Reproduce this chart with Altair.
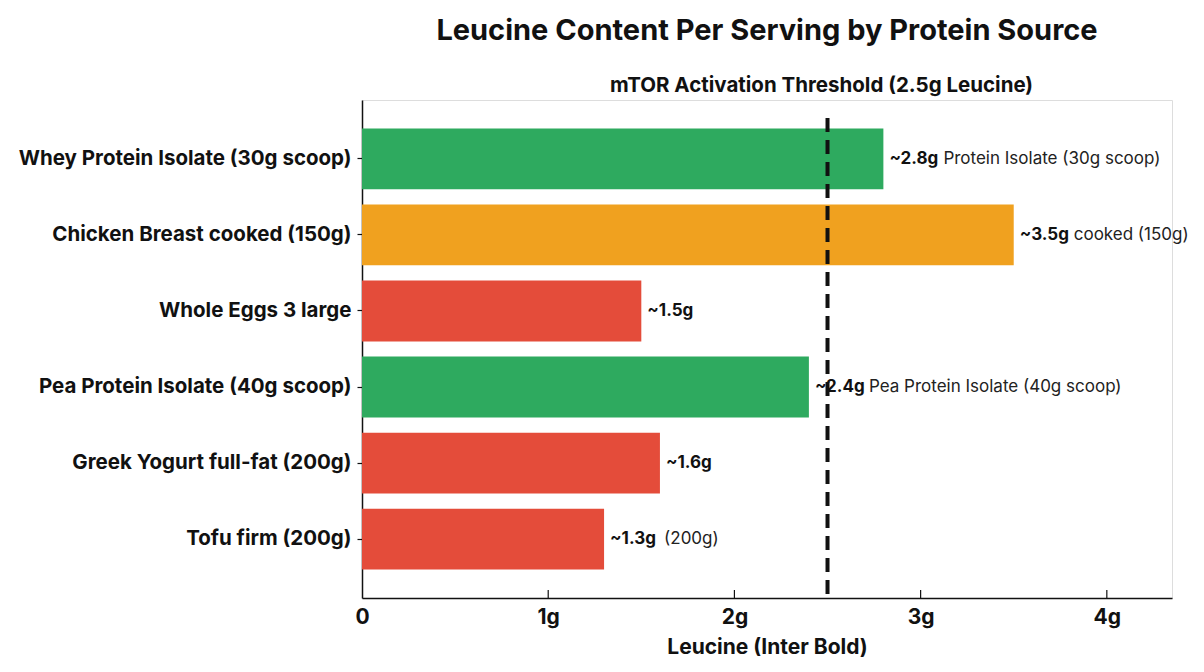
import altair as alt
import pandas as pd

# Leucine per serving, grams
sources = [
    "Whey Protein Isolate (30g scoop)",
    "Chicken Breast cooked (150g)",
    "Whole Eggs 3 large",
    "Pea Protein Isolate (40g scoop)",
    "Greek Yogurt full-fat (200g)",
    "Tofu firm (200g)",
]
leucine = [2.8, 3.5, 1.5, 2.4, 1.6, 1.3]
value_labels = ["~2.8g", "~3.5g", "~1.5g", "~2.4g", "~1.6g", "~1.3g"]
notes = ["Protein Isolate (30g scoop)", "cooked (150g)", "", "Pea Protein Isolate (40g scoop)", "", "(200g)"]
colors = ["#2eaa5f", "#f0a11f", "#e44c3a", "#2eaa5f", "#e44c3a", "#e44c3a"]

threshold = 2.5
threshold_label = "mTOR Activation Threshold (2.5g Leucine)"
x_ticks = [0, 1, 2, 3, 4]

df = pd.DataFrame({
    "source": sources,
    "leucine": leucine,
    "label": value_labels,
    "note": notes,
    "color": colors,
})

FONT = "Inter"
W, H = 810, 498

x_scale = alt.Scale(domain=[0, 4.35], nice=False, zero=True)
y_scale = alt.Scale(domain=sources, paddingInner=0.2, paddingOuter=0.375)

base = alt.Chart(df)

bars = base.mark_bar().encode(
    x=alt.X("leucine:Q", scale=x_scale,
            axis=alt.Axis(values=x_ticks, title="Leucine (Inter Bold)", ticks=False,
                          labelExpr="datum.value == 0 ? '0' : datum.value + 'g'",
                          labelFont=FONT, labelFontSize=21, labelFontWeight="bold",
                          labelColor="#111", labelPadding=8, labelFlush=False,
                          titleFont=FONT, titleFontSize=21, titleFontWeight="bold",
                          titleColor="#111", titlePadding=9,
                          domainColor="#111", domainWidth=1.5, grid=False)),
    y=alt.Y("source:N", scale=y_scale, sort=sources,
            axis=alt.Axis(title=None, labelFont=FONT, labelFontSize=20.5,
                          labelFontWeight="bold", labelColor="#111", labelPadding=6,
                          tickSize=5, tickColor="#111", tickWidth=1.2,
                          domainColor="#111", domainWidth=1.5, labelLimit=400)),
    color=alt.Color("color:N", scale=None),
)

bold_text = base.mark_text(align="left", baseline="middle", dx=6, font=FONT,
                           fontSize=17, fontWeight="bold", color="#111").encode(
    x="leucine:Q", y=alt.Y("source:N", sort=sources), text="label:N")

note_text = base.mark_text(align="left", baseline="middle", dx=60, font=FONT,
                           fontSize=17, color="#222").encode(
    x="leucine:Q", y=alt.Y("source:N", sort=sources), text="note:N")

thr = pd.DataFrame({"x": [threshold], "label": [threshold_label]})

thr_line = alt.Chart(thr).mark_rule(color="#111", strokeWidth=4, strokeDash=[14, 8]).encode(
    x="x:Q", y=alt.value(18), y2=alt.value(H))

thr_text = alt.Chart(thr).mark_text(font=FONT, fontSize=20.5, fontWeight="bold",
                                    color="#111", baseline="middle", dx=-6).encode(
    x="x:Q", y=alt.value(-14), text="label:N")

tick_df = pd.DataFrame({"t": x_ticks[1:]})
ticks = alt.Chart(tick_df).mark_rule(color="#111", strokeWidth=1.2).encode(
    x="t:Q", y=alt.value(H - 8), y2=alt.value(H))

chart = alt.layer(bars, ticks, thr_line, bold_text, note_text, thr_text).properties(
    width=W, height=H,
    title=alt.TitleParams("Leucine Content Per Serving by Protein Source", font=FONT,
                          fontSize=29, fontWeight="bold", color="#111",
                          anchor="middle", offset=30),
    padding={"left": 362, "top": 100, "right": 32, "bottom": 74},
    autosize="none",
).configure_view(stroke=None).configure(background="white")

chart.save("out.html", embed_options={"renderer": "svg", "actions": False})
